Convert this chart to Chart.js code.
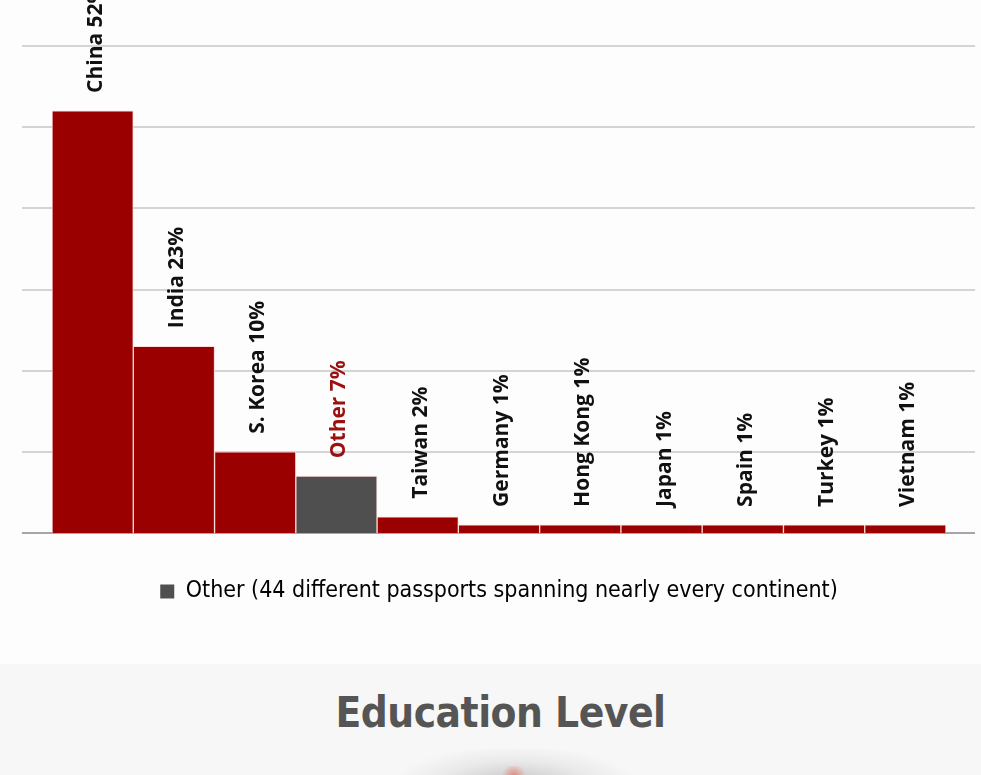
<!DOCTYPE html>
<html>
<head>
<meta charset="utf-8">
<script src="https://cdn.jsdelivr.net/npm/chart.js@4.4.1/dist/chart.umd.min.js"></script>
<style>
  html, body { margin: 0; padding: 0; }
  body { width: 981px; height: 775px; overflow: hidden; background: #fdfdfd; position: relative; }
  #chartBox { position: absolute; left: 0; top: 0; width: 981px; height: 620px; }
  #lower { position: absolute; left: 0; top: 664px; width: 981px; height: 111px; background: #f7f7f7; }
  #lower h2 {
    margin: 0; position: absolute; top: 24px; left: 10px; width: 981px; text-align: center;
    font-family: "Liberation Sans Narrow", "DejaVu Sans Condensed", sans-serif;
    font-weight: bold; font-size: 42px; color: #555555; letter-spacing: -0.5px;
  }
  #blur {
    position: absolute; left: 400px; top: 84px; width: 230px; height: 60px;
    background: radial-gradient(ellipse at 50% 60%, rgba(190,190,190,0.9) 0%, rgba(220,220,220,0.5) 45%, rgba(247,247,247,0) 75%);
  }
  #blur span {
    position: absolute; left: 100px; top: 18px; width: 28px; height: 20px;
    background: radial-gradient(circle, rgba(230,120,100,0.8) 0%, rgba(230,140,120,0) 70%);
  }
</style>
</head>
<body>
<div id="chartBox"><canvas id="originChart" width="981" height="620"></canvas></div>
<div id="lower">
  <h2>Education Level</h2>
  <div id="blur"><span></span></div>
</div>
<script>
// --- Datos del gráfico ---
const countries = ['China', 'India', 'S. Korea', 'Other', 'Taiwan', 'Germany', 'Hong Kong', 'Japan', 'Spain', 'Turkey', 'Vietnam'];
const shares = [52, 23, 10, 7, 2, 1, 1, 1, 1, 1, 1]; // porcentaje
const yTicks = [0, 10, 20, 30, 40, 50, 60];
const legendText = 'Other (44 different passports spanning nearly every continent)';

const RED = '#9b0000';
const GREY = '#4f4f4f';

// Líneas horizontales más anchas que el área de las barras
const gridPlugin = {
    id: 'wideGrid',
    beforeDatasetsDraw(chart) {
        const ctx = chart.ctx;
        const y = chart.scales.y;
        ctx.save();
        yTicks.forEach(v => {
            const py = Math.round(y.getPixelForValue(v));
            ctx.strokeStyle = v === 0 ? '#a6a6a6' : '#d4d4d4';
            ctx.lineWidth = 2;
            ctx.beginPath();
            ctx.moveTo(22, py);
            ctx.lineTo(975, py);
            ctx.stroke();
        });
        ctx.restore();
    }
};

// Etiquetas verticales encima de cada barra
const labelPlugin = {
    id: 'barLabels',
    afterDatasetsDraw(chart) {
        const ctx = chart.ctx;
        const bars = chart.getDatasetMeta(0).data;
        ctx.save();
        ctx.font = 'bold 21px "Open Sans", sans-serif';
        ctx.textAlign = 'left';
        ctx.textBaseline = 'middle';
        bars.forEach((bar, i) => {
            ctx.save();
            ctx.translate(bar.x + 3, bar.y - 18);
            ctx.rotate(-Math.PI / 2);
            ctx.fillStyle = countries[i] === 'Other' ? '#9b1010' : '#111111';
            ctx.fillText(countries[i] + ' ' + shares[i] + '%', 0, 0);
            ctx.restore();
        });
        ctx.restore();
    }
};

new Chart(document.getElementById('originChart').getContext('2d'), {
    type: 'bar',
    data: {
        labels: countries,
        datasets: [{
            label: legendText,
            data: shares,
            backgroundColor: countries.map(c => c === 'Other' ? GREY : RED),
            borderColor: 'rgba(255, 215, 215, 0.9)',
            borderWidth: 1,
            barPercentage: 1,
            categoryPercentage: 1
        }]
    },
    options: {
        responsive: false,
        animation: false,
        layout: { padding: { top: 46, left: 52, right: 35, bottom: 7 } },
        scales: {
            y: {
                display: false,
                min: 0,
                max: 60,
                ticks: { stepSize: 10 }
            },
            x: {
                ticks: { display: false },
                grid: { display: false },
                border: { display: false },
                afterFit(scale) { scale.height = 37; }
            }
        },
        plugins: {
            tooltip: { enabled: false },
            legend: {
                position: 'bottom',
                labels: {
                    font: { family: '"Liberation Sans Narrow", "DejaVu Sans Condensed", sans-serif', size: 23 },
                    color: '#404040',
                    boxWidth: 14,
                    boxHeight: 14,
                    padding: 10,
                    generateLabels: () => [{
                        text: legendText,
                        fillStyle: GREY,
                        strokeStyle: GREY,
                        lineWidth: 0,
                        hidden: false,
                        datasetIndex: 0
                    }]
                }
            }
        }
    },
    plugins: [gridPlugin, labelPlugin]
});
</script>
</body>
</html>
